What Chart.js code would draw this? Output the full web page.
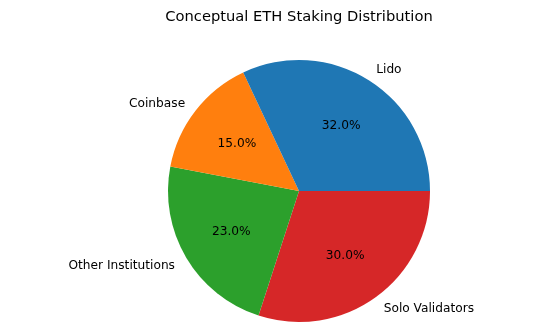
<!DOCTYPE html>
<html>
<head>
<meta charset="utf-8">
<script src="https://cdn.jsdelivr.net/npm/chart.js@4"></script>
<style>
  html, body { margin: 0; padding: 0; background: #fff; }
  #wrap { width: 542px; height: 329px; }
</style>
</head>
<body>
<div id="wrap"><canvas id="myChart" width="542" height="329"></canvas></div>
<script>
// values as drawn, in matplotlib order (counter-clockwise from 3 o'clock)
const categories = ['Lido', 'Coinbase', 'Other Institutions', 'Solo Validators'];
const shares = [32, 15, 23, 30];
const colors = ['#1f77b4', '#ff7f0e', '#2ca02c', '#d62728'];

// Chart.js draws clockwise, so reverse to get the same layout
const labelsCw = categories.slice().reverse();
const sharesCw = shares.slice().reverse();
const colorsCw = colors.slice().reverse();

const pieText = {
  id: 'pieText',
  afterDraw(chart) {
    const ctx = chart.ctx;
    const arcs = chart.getDatasetMeta(0).data;
    const total = sharesCw.reduce((a, b) => a + b, 0);
    ctx.save();
    ctx.fillStyle = '#000';
    ctx.textBaseline = 'middle';
    arcs.forEach((arc, i) => {
      const mid = (arc.startAngle + arc.endAngle) / 2;
      const r = arc.outerRadius;
      const c = Math.cos(mid), s = Math.sin(mid);
      ctx.font = '12.2px "DejaVu Sans"';
      // category label outside
      ctx.textAlign = c > 0 ? 'left' : 'right';
      ctx.fillText(labelsCw[i], arc.x + c * r * 1.1, arc.y + s * r * 1.1 + 1);
      // percentage inside
      ctx.textAlign = 'center';
      const pct = (sharesCw[i] / total * 100).toFixed(1) + '%';
      ctx.fillText(pct, arc.x + c * r * 0.6, arc.y + s * r * 0.6 + 1);
    });
    // title
    const a0 = arcs[0];
    ctx.font = '14.7px "DejaVu Sans"';
    ctx.textAlign = 'center';
    ctx.fillText('Conceptual ETH Staking Distribution', a0.x, 17);
    ctx.restore();
  }
};

const ctx = document.getElementById('myChart').getContext('2d');
const myChart = new Chart(ctx, {
  type: 'pie',
  data: {
    labels: labelsCw,
    datasets: [{
      data: sharesCw,
      backgroundColor: colorsCw,
      borderWidth: 0,
      hoverOffset: 0,
      offset: 0
    }]
  },
  options: {
    responsive: false,
    animation: false,
    rotation: 90,
    layout: { padding: { top: 60, bottom: 7, left: 56, right: 0 } },
    plugins: {
      legend: { display: false },
      title: { display: false },
      tooltip: { enabled: false }
    }
  },
  plugins: [pieText]
});
</script>
</body>
</html>
